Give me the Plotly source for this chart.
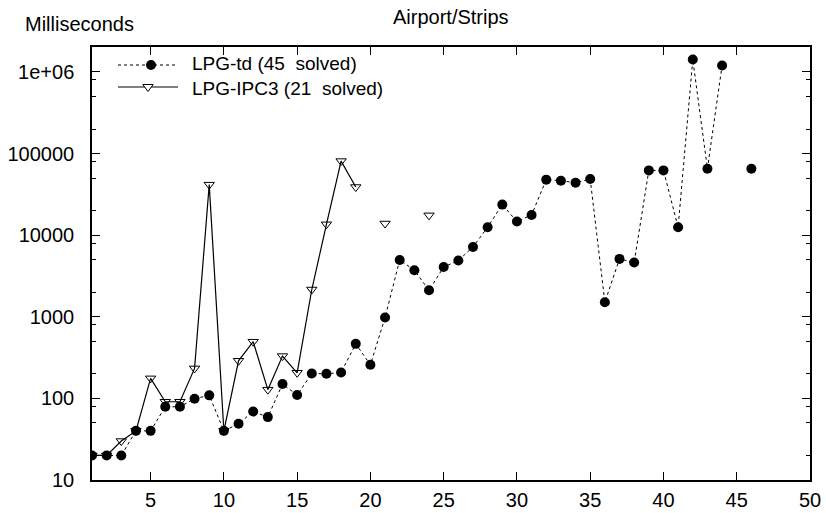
import plotly.graph_objects as go

# ---- data ----
x_td = list(range(1, 47))
y_td = [20, 20, 20, 40, 40, 79, 79, 99, 109, 40,
        49, 69, 59, 150, 110, 202, 200, 208, 466, 258,
        980, 4970, 3720, 2110, 4070, 4890, 7180, 12500, 23700, 14700,
        17700, 47900, 46500, 44000, 48700, 1510, 5120, 4620, 62200, 62200,
        12500, 1420000, 65300, 1200000, None, 65300]

x_ipc = list(range(1, 25))
y_ipc = [20, 20, 30, 40, 176, 91, 91, 233, 41600, 40,
         289, 495, 128, 330, 206, 2160, 13600, 80900, 38900, None,
         13900, None, None, 17500]

name_td = "LPG-td (45\u00a0\u00a0solved)"
name_ipc = "LPG-IPC3 (21\u00a0\u00a0solved)"

x_tickvals = [5, 10, 15, 20, 25, 30, 35, 40, 45, 50]
y_tickvals = [10, 100, 1000, 10000, 100000, 1000000]
y_ticktext = ["10", "100", "1000", "10000", "100000", "1e+06"]
y_minorvals = [20, 50, 80, 200, 500, 800, 2000, 5000, 8000,
               20000, 50000, 80000, 200000, 500000, 800000]

FONT = "Liberation Sans, Arial, Helvetica, sans-serif"
FS = 20

fig = go.Figure()
fig.add_trace(go.Scatter(
    x=x_ipc, y=y_ipc, mode="lines+markers", name=name_ipc,
    connectgaps=False,
    line=dict(color="black", width=1.2),
    marker=dict(symbol="triangle-down-open", size=9, color="black",
                line=dict(color="black", width=1)),
))
fig.add_trace(go.Scatter(
    x=x_td, y=y_td, mode="lines+markers", name=name_td,
    connectgaps=False,
    line=dict(color="black", width=1, dash="3px,3px"),
    marker=dict(symbol="circle", size=10, color="black"),
))

# plot area in pixels: x 92..810, y 47..480
L, R, T, B = 92, 810, 47, 480
W, H = R - L, B - T


def px(xp):
    return (xp - L) / W


def py(yp):
    return (B - yp) / H


ROW1, ROW2 = 65, 87

shapes = [
    dict(type="line", xref="paper", yref="paper", x0=px(118), x1=px(178),
         y0=py(ROW1), y1=py(ROW1), line=dict(color="black", width=1, dash="3px,3px")),
    dict(type="line", xref="paper", yref="paper", x0=px(118), x1=px(178),
         y0=py(ROW2), y1=py(ROW2), line=dict(color="black", width=1.2)),
    dict(type="circle", xref="paper", yref="paper", xsizemode="pixel", ysizemode="pixel",
         xanchor=px(151), yanchor=py(ROW1), x0=-5, x1=5, y0=-5, y1=5,
         fillcolor="black", line=dict(color="black", width=0)),
    dict(type="path", xref="paper", yref="paper", xsizemode="pixel", ysizemode="pixel",
         xanchor=px(148), yanchor=py(ROW2), path="M-5.2,2.5 L5.2,2.5 L0,-4.5 Z",
         fillcolor="white", line=dict(color="black", width=1)),
]

annotations = [
    dict(text="Airport/Strips", xref="paper", yref="paper", x=0.5, y=1,
         yshift=30, xanchor="center", yanchor="middle", showarrow=False,
         font=dict(family=FONT, size=FS, color="black")),
    dict(text="Milliseconds", xref="paper", yref="paper", x=0, y=1,
         xshift=-69, yshift=23, xanchor="left", yanchor="middle", showarrow=False,
         font=dict(family=FONT, size=FS, color="black")),
    dict(text=name_td + "<br>" + name_ipc, xref="paper", yref="paper",
         x=px(190), y=py((ROW1 + ROW2) / 2), align="left",
         xanchor="left", yanchor="middle", showarrow=False,
         font=dict(family=FONT, size=19, color="black")),
]

fig.update_layout(
    width=826, height=513,
    margin=dict(l=L, r=826 - R, t=T, b=513 - B, pad=0, autoexpand=False),
    plot_bgcolor="white", paper_bgcolor="white",
    showlegend=False,
    font=dict(family=FONT, size=FS, color="black"),
    shapes=shapes, annotations=annotations,
)
fig.update_xaxes(
    range=[1, 50], tickmode="array", tickvals=x_tickvals, automargin=False,
    ticks="inside", ticklen=8, tickwidth=1.2, tickcolor="black",
    showline=True, linecolor="black", linewidth=1.5, mirror="ticks",
    showgrid=False, zeroline=False, ticklabelstandoff=1,
)
fig.update_yaxes(
    type="log", range=[1, 6.306], tickmode="array", automargin=False,
    tickvals=y_tickvals, ticktext=y_ticktext,
    ticks="inside", ticklen=8, tickwidth=1.2, tickcolor="black",
    showline=True, linecolor="black", linewidth=1.5, mirror="ticks",
    showgrid=False, zeroline=False, ticklabelstandoff=12,
    minor=dict(tickmode="array", tickvals=y_minorvals, ticks="inside",
               ticklen=4, tickwidth=1.2, tickcolor="black", showgrid=False),
)

fig.write_html("out.html")
